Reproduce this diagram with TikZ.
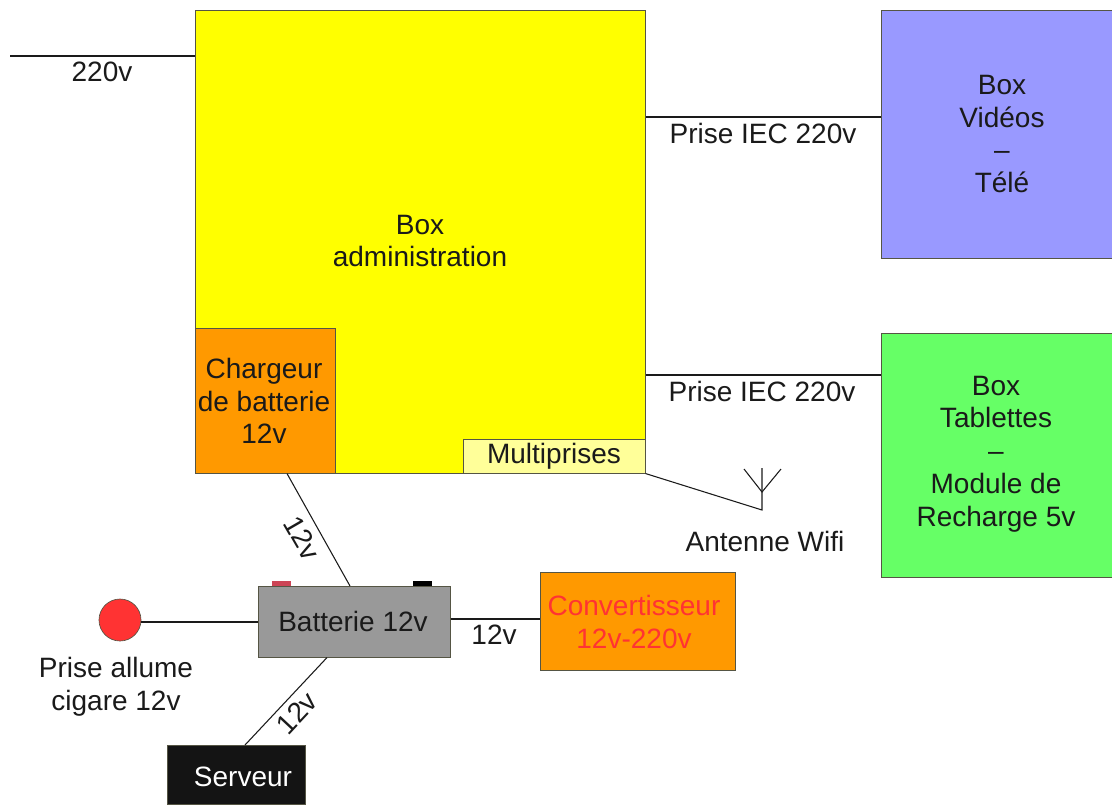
\documentclass[tikz,border=0pt]{standalone}
\usepackage{fontspec}
\setmainfont{Liberation Sans}
\definecolor{boxline}{HTML}{555544}
\definecolor{adminY}{HTML}{FFFF00}
\definecolor{orangeF}{HTML}{FF9900}
\definecolor{paleY}{HTML}{FFFF99}
\definecolor{blueF}{HTML}{9999FF}
\definecolor{greenF}{HTML}{66FF66}
\definecolor{grayF}{HTML}{999999}
\definecolor{redF}{HTML}{FF3333}
\definecolor{inkT}{HTML}{1A1A1A}
\definecolor{termR}{HTML}{CC4455}
\tikzset{
  x=0.75pt,y=-0.75pt,
  txt/.style={inner sep=0pt,align=center,text=inkT,font=\fontsize{21}{24.6}\selectfont},
  panel/.style={draw=boxline,line width=0.75pt},
  wire/.style={draw=inkT,line width=0.8pt},
}
\newcommand{\panelbox}[7][]{%
  \path[panel,fill=#7,#1] (#3,#4) rectangle (#5,#6);
  \node[inner sep=0pt,minimum width=0.75pt*(#5-#3),minimum height=0.75pt*(#6-#4),anchor=north west] (#2) at (#3,#4) {};
}
\begin{document}
\begin{tikzpicture}
\useasboundingbox (0,0) rectangle (1112,804);
\panelbox{admin}{195}{10}{645}{473}{adminY}
\panelbox{charger}{195}{328}{335}{473}{orangeF}
\panelbox{multi}{463}{439}{645}{473}{paleY}
\panelbox{video}{881}{10}{1112}{258}{blueF}
\panelbox{tablet}{881}{333}{1112}{577}{greenF}
\panelbox{conv}{540}{572}{735}{670}{orangeF}
\fill[termR] (272,581) rectangle (291,586);
\fill[black] (413,581) rectangle (432,586);
\panelbox{batt}{258}{586}{450}{657}{grayF}
\panelbox{server}{167}{745}{305}{804}{black!92}
\node[circle,draw=boxline,line width=0.5pt,fill=redF,minimum size=31.5pt,inner sep=0pt] (plug) at (120,620) {};

\coordinate (inlet) at (10,56);
\coordinate (antfoot) at (762,510);
\coordinate (anttop) at (762,468);
\coordinate (antfork) at (762,492);
\coordinate (armL) at (744,469);
\coordinate (armR) at (781,469);
\coordinate (vid) at (881,117);
\coordinate (tab) at (881,375);

\draw[wire] (inlet) -- (admin.west |- inlet);
\draw[wire] (admin.east |- vid) -- (video.west |- vid);
\draw[wire] (admin.east |- tab) -- (tablet.west |- tab);
\draw[wire] (multi.south east) -- (antfoot) -- (anttop);
\draw[wire] (armL) -- (antfork) -- (armR);
\draw[wire] (charger.south west) ++(92,0) coordinate (cs) (cs) -- (batt.north west -| 350,586);
\draw[wire] (plug.east |- 0,622) -- (batt.west |- 0,622);
\draw[wire] (batt.east |- 0,619) -- (conv.west |- 0,619);
\draw[wire] (batt.south west -| 327,657) -- (server.north west -| 245,745);

\node[txt] (t220) at (102,72) {220v};
\node[txt] (tadmin) at (420,241) {Box\\administration};
\node[txt] (tcharger) at (264,401) {Chargeur\\de batterie\\12v};
\node[txt] (tmulti) at (554,456) {Multiprises};
\node[txt] (tiec1) at (763,133) {Prise IEC 220v};
\node[txt] (tiec2) at (762,391) {Prise IEC 220v};
\node[txt] (tvideo) at (1002,134) {Box\\Vidéos\\--\\Télé};
\node[txt] (ttablet) at (996,454) {Box\\Tablettes\\–\\Module de\\Recharge 5v};
\node[txt] (tant) at (765,541) {Antenne Wifi};
\node[txt] (tbatt) at (353,621) {Batterie 12v};
\node[txt,text=redF] (tconv) at (634,622) {Convertisseur\\12v-220v};
\node[txt] (t12a) at (494,635) {12v};
\node[txt,rotate=-60] (t12b) at (302,538) {12v};
\node[txt,rotate=47] (t12c) at (297,713) {12v};
\node[txt] (tplug) at (116,687) {Prise allume\\cigare 12v};
\node[txt,text=white] (tserver) at (243,777) {Serveur};
\end{tikzpicture}
\end{document}
